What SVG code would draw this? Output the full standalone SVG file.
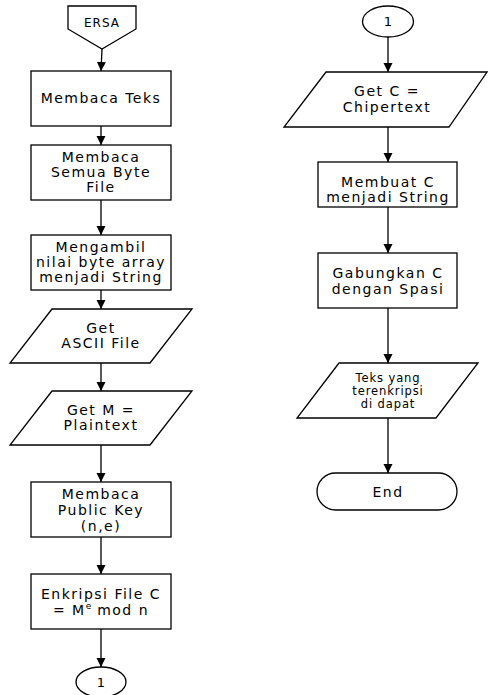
<svg xmlns="http://www.w3.org/2000/svg" width="488" height="695" viewBox="0 0 488 695">
<style>
.s{fill:#fff;stroke:#000;stroke-width:1.3}
.t{font-family:"DejaVu Sans",Verdana,sans-serif;font-size:14px;letter-spacing:1.5px;text-anchor:middle;fill:#000}
.sm{font-size:11.5px;letter-spacing:0.9px}
.e{font-size:12px;letter-spacing:1px}
.c{stroke:#000;stroke-width:1.3;fill:none;marker-end:url(#a)}
</style>
<defs>
<marker id="a" markerUnits="userSpaceOnUse" markerWidth="10" markerHeight="10" refX="9" refY="4.5" orient="auto">
<path d="M0,0 L9,4.5 L0,9 Z" fill="#000"/>
</marker>
</defs>
<rect width="488" height="695" fill="#fff"/>
<g id="connectors">
<line class="c" x1="102" y1="49" x2="101" y2="71"/>
<line class="c" x1="101" y1="126" x2="101" y2="145"/>
<line class="c" x1="101" y1="200" x2="101" y2="235"/>
<line class="c" x1="101" y1="290" x2="101" y2="309"/>
<line class="c" x1="101" y1="363" x2="101" y2="391"/>
<line class="c" x1="101" y1="445" x2="101" y2="482"/>
<line class="c" x1="101" y1="537" x2="101" y2="574"/>
<line class="c" x1="101" y1="629" x2="101" y2="667"/>
<line class="c" x1="388" y1="37" x2="388" y2="72"/>
<line class="c" x1="388" y1="127" x2="388" y2="162"/>
<line class="c" x1="388" y1="207" x2="388" y2="253"/>
<line class="c" x1="388" y1="308" x2="388" y2="363"/>
<line class="c" x1="388" y1="418" x2="388" y2="473"/>
</g>
<g id="ersa">
<path class="s" d="M68,6 L136,6 L136,29 L102,49 L68,29 Z"/>
<text class="t e" x="102" y="27">ERSA</text>
</g>
<g id="membaca-teks">
<rect class="s" x="31" y="71" width="140" height="55"/>
<text class="t" x="101" y="103">Membaca Teks</text>
</g>
<g id="membaca-byte">
<rect class="s" x="31" y="145" width="140" height="55"/>
<text class="t" x="101" y="162">Membaca</text>
<text class="t" x="101" y="177">Semua Byte</text>
<text class="t" x="101" y="192">File</text>
</g>
<g id="mengambil">
<rect class="s" x="31" y="235" width="140" height="55"/>
<text class="t" x="101" y="252">Mengambil</text>
<text class="t" x="101" y="267">nilai byte array</text>
<text class="t" x="101" y="282">menjadi String</text>
</g>
<g id="get-ascii">
<path class="s" d="M52,309 L192,309 L150,363 L10,363 Z"/>
<text class="t" x="101" y="333">Get</text>
<text class="t" x="101" y="348">ASCII File</text>
</g>
<g id="get-m">
<path class="s" d="M52,391 L192,391 L150,445 L10,445 Z"/>
<text class="t" x="101" y="415">Get M =</text>
<text class="t" x="101" y="430">Plaintext</text>
</g>
<g id="public-key">
<rect class="s" x="31" y="482" width="140" height="55"/>
<text class="t" x="101" y="499">Membaca</text>
<text class="t" x="101" y="515">Public Key</text>
<text class="t" x="101" y="531">(n,e)</text>
</g>
<g id="enkripsi">
<rect class="s" x="31" y="574" width="140" height="55"/>
<text class="t" x="101" y="599">Enkripsi File C</text>
<text class="t" x="101" y="615">= M<tspan font-size="9" dy="-6" letter-spacing="0">e</tspan><tspan dy="6"> mod n</tspan></text>
</g>
<g id="connector-out">
<ellipse class="s" cx="101" cy="682" rx="25" ry="15"/>
<text class="t" x="101" y="687" style="font-size:13px;letter-spacing:0">1</text>
</g>
<g id="connector-in">
<ellipse class="s" cx="388" cy="21.5" rx="25.5" ry="15.5"/>
<text class="t" x="388" y="26" style="font-size:13px;letter-spacing:0">1</text>
</g>
<g id="get-c">
<path class="s" d="M326,72 L487,72 L449,127 L284,127 Z"/>
<text class="t" x="387" y="96">Get C =</text>
<text class="t" x="387" y="112">Chipertext</text>
</g>
<g id="membuat-c">
<rect class="s" x="318" y="162" width="139" height="45"/>
<text class="t" x="388" y="187">Membuat C</text>
<text class="t" x="388" y="202">menjadi String</text>
</g>
<g id="gabungkan">
<rect class="s" x="318" y="253" width="139" height="55"/>
<text class="t" x="388" y="278">Gabungkan C</text>
<text class="t" x="388" y="294">dengan Spasi</text>
</g>
<g id="teks-terenkripsi">
<path class="s" d="M339,363 L478,363 L436,418 L297,418 Z"/>
<text class="t sm" x="388" y="382">Teks yang</text>
<text class="t sm" x="388" y="395">terenkripsi</text>
<text class="t sm" x="388" y="408">di dapat</text>
</g>
<g id="end">
<rect class="s" x="317" y="473" width="140" height="37" rx="18.5" ry="18.5"/>
<text class="t" x="388" y="497">End</text>
</g>
</svg>
